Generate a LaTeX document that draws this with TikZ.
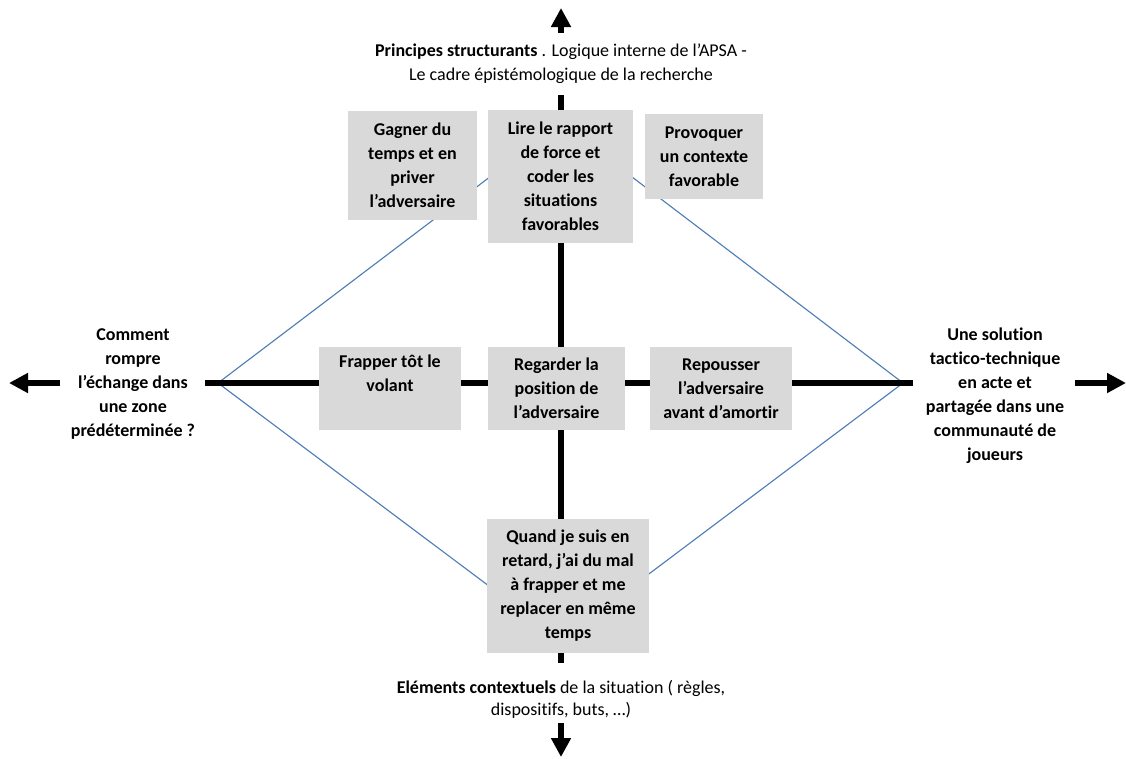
\documentclass[tikz,border=0pt]{standalone}
\usepackage{fontspec}
\setmainfont{Carlito}[Ligatures=NoCommon]
\usepackage{tikz}
\usetikzlibrary{arrows.meta,positioning,calc}
\newlength{\pxu}
\setlength{\pxu}{0.75pt}
\definecolor{boxgray}{RGB}{217,217,217}
\definecolor{diamblue}{RGB}{80,126,180}
\tikzset{
  box/.style={fill=boxgray, inner sep=0pt, align=center, font=\fontsize{13.5}{18}\selectfont\bfseries},
  lbl/.style={inner sep=0pt, align=center, font=\fontsize{13.5}{18}\selectfont},
  axis/.style={line width=4.5pt},
  axisarrow/.style={line width=4.5pt, -{Triangle[length=14.25pt, width=14.25pt]}},
  diam/.style={draw=diamblue, line width=0.85pt},
}

\begin{document}
\begin{tikzpicture}[x=0.75pt,y=-0.75pt]
  \useasboundingbox (0,0) rectangle (1126,758);
  % diamond
  \coordinate (dl) at (218,383);
  \coordinate (dt) at (561,123);
  \coordinate (dr) at (903,383);
  \coordinate (db) at (561,640);
  \draw[diam] (dl) -- (dt) -- (dr) -- (db) -- cycle;
  % axes
  \coordinate (vtop) at (561,95);
  \coordinate (vbot) at (561,663);
  \coordinate (hleft) at (205,383);
  \coordinate (hright) at (913,383);
  \draw[axis] (vtop) -- (vbot);
  \draw[axis] (hleft) -- (hright);
  \coordinate (upS) at (561,33);   \coordinate (upT) at (561,8);
  \coordinate (dnS) at (561,723);  \coordinate (dnT) at (561,757);
  \coordinate (lfS) at (60,383);   \coordinate (lfT) at (9,383);
  \coordinate (rtS) at (1075,383); \coordinate (rtT) at (1126,383);
  \draw[axisarrow] (upS) -- (upT);
  \draw[axisarrow] (dnS) -- (dnT);
  \draw[axisarrow] (lfS) -- (lfT);
  \draw[axisarrow] (rtS) -- (rtT);
  % boxes
  \node[box, minimum width=129\pxu, minimum height=109\pxu] (gagner) at (412.5,165.5)
    {Gagner du\\temps et en\\priver\\l’adversaire};
  \node[box, minimum width=145\pxu, minimum height=133\pxu] (lire) at (560.5,176.5)
    {Lire le rapport\\de force et\\coder les\\situations\\favorables};
  \node[box, minimum width=118\pxu, minimum height=85\pxu] (provoquer) at (704,156.5)
    {Provoquer\\un contexte\\favorable};
  \node[box, minimum width=142\pxu, minimum height=83\pxu] (frapper) at (390,388.5)
    {Frapper tôt le\\volant\\\strut};
  \node[box, minimum width=137\pxu, minimum height=83\pxu] (regarder) at (556.5,388.5)
    {Regarder la\\position de\\l’adversaire};
  \node[box, minimum width=142\pxu, minimum height=83\pxu] (repousser) at (721,388.5)
    {Repousser\\l’adversaire\\avant d’amortir};
  \node[box, minimum width=162\pxu, minimum height=134\pxu] (quand) at (568,586)
    {Quand je suis en\\retard, j’ai du mal\\à frapper et me\\replacer en même\\temps};
  % labels
  \node[lbl] (principes) at (561,64)
    {\textbf{Principes structurants} . Logique interne de l’APSA -\\Le cadre épistémologique de la recherche};
  \node[lbl, font=\fontsize{13.5}{16.5}\selectfont] (elements) at (561,699)
    {\textbf{Eléments contextuels} de la situation ( règles,\\dispositifs, buts, …)};
  \node[lbl, font=\fontsize{13.5}{18}\selectfont\bfseries, anchor=north] (comment) at (133,328)
    {Comment\\rompre\\l’échange dans\\une zone\\prédéterminée ?};
  \node[lbl, font=\fontsize{13.5}{18}\selectfont\bfseries, anchor=north] (solution) at (995,328)
    {Une solution\\tactico-technique\\en acte et\\partagée dans une\\communauté de\\joueurs};
\end{tikzpicture}
\end{document}
